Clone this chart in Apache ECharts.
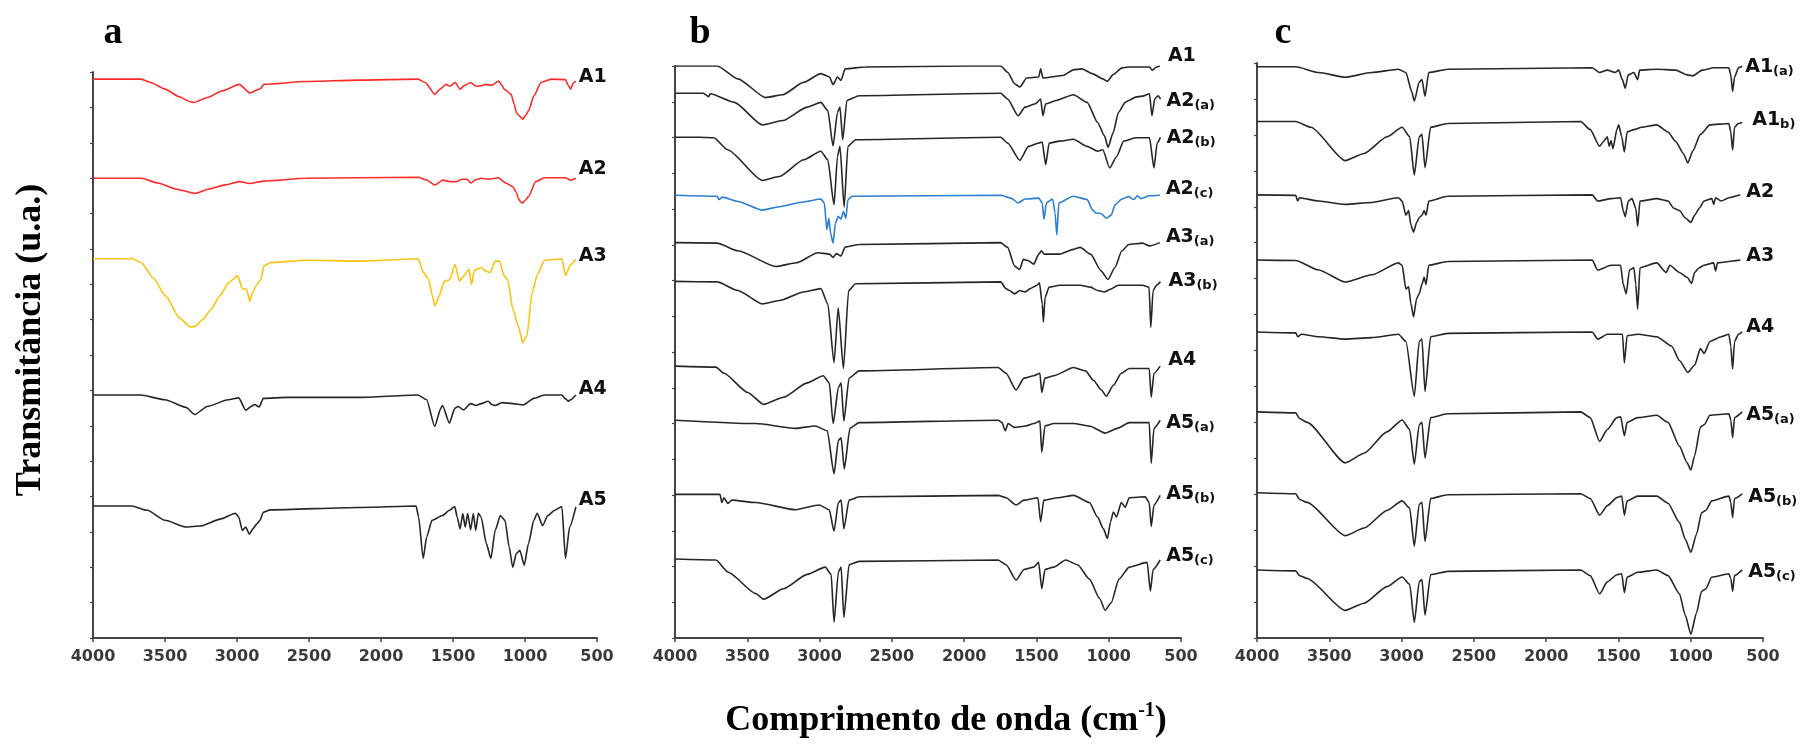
<!DOCTYPE html>
<html lang="pt">
<head>
  <meta charset="UTF-8">
  <title>FTIR</title>
  <style>
    html, body, #chart {
      margin: 0;
      padding: 0;
      width: 1816px;
      height: 745px;
      background: #fff;
    }
  </style>
</head>
<body>
<div id="chart"></div>

<script src="https://cdn.jsdelivr.net/npm/echarts@6/dist/echarts.min.js"></script>
<script>
  // wavenumber ticks (cm-1)
  var xTicks = [500, 4000, 500];

  // panel a spectra [wavenumber, transmittance u.a.]
  var aA1 = [[4000,1173],[3666,1173],[3600,1166],[3500,1152],[3400,1136],[3330,1126],[3301,1124],[3200,1135],[3106,1148],[2984,1162],[2911,1144],[2838,1153],[2814,1162],[2522,1168],[2156,1171],[1742,1173],[1693,1166],[1626,1141],[1590,1152],[1548,1162],[1520,1158],[1486,1166],[1450,1152],[1420,1160],[1377,1166],[1340,1158],[1304,1159],[1270,1162],[1231,1160],[1182,1169],[1160,1160],[1145,1152],[1096,1141],[1075,1120],[1060,1103],[1040,1096],[1016,1089],[995,1097],[975,1107],[938,1138],[889,1166],[817,1173],[719,1172],[700,1160],[683,1152],[665,1165],[647,1169]];
  var aA2 = [[4000,965],[3666,965],[3550,955],[3420,942],[3289,933],[3200,942],[3082,951],[2984,958],[2911,954],[2814,959],[2522,965],[2156,966],[1742,967],[1681,961],[1626,951],[1571,961],[1520,958],[1474,958],[1440,963],[1401,963],[1377,955],[1340,962],[1304,965],[1250,963],[1182,966],[1150,958],[1133,955],[1084,947],[1060,935],[1047,923],[1030,915],[1016,913],[995,920],[975,927],[926,958],[865,966],[719,966],[683,961],[647,965]];
  var aA3 = [[4000,796],[3727,796],[3666,788],[3580,755],[3496,718],[3400,672],[3325,653],[3289,654],[3240,668],[3179,690],[3120,718],[3057,746],[2996,760],[2960,732],[2935,733],[2911,707],[2892,725],[2862,742],[2833,753],[2814,781],[2765,788],[2522,793],[2156,791],[1742,796],[1705,767],[1669,753],[1645,720],[1626,697],[1596,718],[1559,749],[1523,752],[1486,784],[1455,749],[1425,760],[1389,774],[1372,742],[1352,772],[1304,777],[1270,770],[1243,767],[1206,791],[1177,791],[1145,760],[1121,753],[1084,690],[1047,655],[1016,620],[987,634],[950,725],[914,763],[865,793],[817,794],[744,796],[719,761],[683,784],[647,795]];
  var aA4 = [[4000,510],[3671,510],[3500,500],[3354,484],[3293,469],[3207,486],[3061,500],[2988,504],[2939,478],[2902,486],[2878,490],[2846,485],[2817,503],[2646,505],[2159,505],[1744,510],[1683,500],[1627,444],[1585,482],[1573,488],[1525,451],[1488,482],[1464,486],[1427,479],[1378,492],[1340,488],[1305,492],[1256,497],[1230,490],[1207,488],[1159,494],[1085,492],[1012,489],[939,503],[866,510],[744,510],[719,502],[700,497],[683,500],[647,510]];
  var aA5 = [[4000,277],[3732,277],[3622,268],[3500,247],[3354,233],[3256,235],[3110,250],[3012,262],[2988,254],[2963,226],[2939,233],[2915,218],[2890,229],[2861,240],[2841,247],[2817,264],[2768,269],[2159,274],[1756,277],[1739,254],[1707,167],[1683,212],[1646,247],[1573,257],[1524,268],[1488,276],[1471,254],[1451,229],[1432,261],[1415,233],[1398,261],[1378,227],[1359,261],[1342,226],[1324,262],[1305,254],[1268,198],[1237,167],[1207,226],[1171,257],[1139,247],[1110,191],[1085,148],[1061,177],[1036,184],[1005,153],[976,198],[939,247],[915,262],[878,236],[841,257],[793,268],[744,276],[719,167],[690,233],[647,275]];

  // panel b spectra
  var bA1 = [[4000,1195],[3708,1195],[3565,1168],[3373,1129],[3254,1135],[3110,1161],[2991,1179],[2931,1172],[2907,1156],[2876,1172],[2852,1165],[2823,1189],[2680,1193],[1962,1195],[1747,1195],[1699,1182],[1651,1158],[1615,1151],[1567,1170],[1484,1172],[1471,1189],[1455,1170],[1316,1175],[1244,1187],[1185,1189],[1113,1179],[1041,1168],[1010,1163],[969,1177],[909,1191],[862,1193],[718,1193],[699,1186],[670,1193],[646,1195]];
  var bA2a = [[4000,1138],[3804,1138],[3768,1131],[3756,1137],[3589,1119],[3397,1072],[3254,1081],[3086,1109],[2991,1119],[2943,1102],[2907,1028],[2876,1098],[2859,1109],[2840,1041],[2811,1123],[2727,1133],[1747,1138],[1699,1126],[1627,1091],[1579,1109],[1507,1116],[1471,1126],[1455,1091],[1436,1116],[1364,1123],[1244,1135],[1149,1119],[1077,1077],[1029,1049],[1005,1025],[969,1056],[933,1098],[885,1119],[862,1123],[814,1130],[766,1132],[718,1137],[701,1091],[682,1126],[658,1133],[642,1126]];
  var bA2b = [[4000,1046],[3828,1046],[3732,1045],[3636,1020],[3397,956],[3278,964],[3110,999],[2991,1017],[2943,999],[2900,905],[2876,1006],[2859,1027],[2830,900],[2804,1027],[2751,1041],[1747,1046],[1699,1034],[1615,998],[1555,1027],[1484,1034],[1460,1036],[1436,989],[1412,1034],[1340,1038],[1244,1042],[1149,1027],[1077,1017],[1041,1020],[993,982],[945,1006],[897,1038],[814,1045],[718,1045],[687,982],[665,1034],[642,1046]];
  var bA2c = [[4000,925],[3708,923],[3696,916],[3672,921],[3565,912],[3397,894],[3278,901],[3110,911],[2991,917],[2967,909],[2950,853],[2936,877],[2924,846],[2907,825],[2890,867],[2871,881],[2852,875],[2835,891],[2818,877],[2804,916],[2775,923],[1747,925],[1675,919],[1627,909],[1579,917],[1484,919],[1460,909],[1448,875],[1431,909],[1388,917],[1371,888],[1359,842],[1345,909],[1244,923],[1149,916],[1113,895],[1089,888],[1053,887],[1017,877],[981,884],[957,905],[909,917],[862,922],[826,916],[802,924],[778,918],[718,924],[646,925]];
  var bA3a = [[4000,826],[3708,825],[3565,809],[3302,776],[3158,784],[3014,805],[2931,802],[2907,795],[2883,803],[2852,798],[2823,817],[2727,822],[1747,826],[1699,816],[1651,777],[1615,770],[1591,791],[1555,788],[1519,781],[1484,802],[1465,809],[1448,802],[1340,802],[1244,812],[1197,816],[1125,802],[1053,767],[1005,749],[957,774],[909,809],[862,822],[766,825],[718,819],[646,826]];
  var bA3b = [[4000,745],[3708,744],[3565,726],[3397,698],[3278,705],[3110,723],[2991,730],[2943,698],[2900,575],[2871,690],[2835,563],[2799,726],[2751,740],[1747,744],[1711,730],[1687,726],[1651,719],[1615,726],[1579,723],[1543,730],[1496,737],[1479,742],[1460,698],[1452,660],[1440,712],[1412,733],[1340,737],[1197,737],[1125,733],[1077,726],[1029,723],[993,728],[933,737],[766,737],[721,733],[709,649],[693,726],[670,737],[642,744]];
  var bA4 = [[4000,568],[3717,566],[3662,553],[3497,513],[3387,488],[3250,503],[3085,533],[2975,548],[2933,533],[2906,448],[2870,523],[2851,533],[2832,453],[2796,543],[2727,558],[1765,565],[1710,553],[1641,518],[1586,543],[1518,548],[1476,553],[1463,513],[1441,543],[1380,548],[1243,565],[1160,558],[1105,538],[1050,518],[1017,505],[968,528],[913,553],[858,563],[720,563],[706,503],[687,553],[644,568]];
  var bA5a = [[4000,455],[3442,448],[3167,438],[3030,443],[2947,433],[2900,343],[2870,413],[2851,418],[2829,353],[2790,438],[2727,450],[1765,455],[1738,450],[1716,433],[1696,448],[1655,440],[1573,443],[1518,448],[1476,453],[1463,388],[1441,443],[1380,448],[1243,448],[1133,443],[1025,428],[940,438],[858,450],[720,450],[706,365],[687,438],[644,455]];
  var bA5b = [[4000,300],[3689,300],[3676,283],[3662,293],[3634,281],[3607,288],[3442,283],[3167,268],[3002,278],[2933,268],[2900,223],[2870,283],[2851,288],[2832,228],[2796,288],[2727,295],[1765,298],[1710,293],[1641,278],[1586,288],[1490,293],[1471,243],[1449,288],[1353,293],[1243,298],[1133,283],[1078,253],[1036,228],[1009,208],[987,243],[968,263],[946,253],[913,283],[886,273],[858,293],[748,295],[720,283],[706,233],[687,278],[644,298]];
  var bA5c = [[4000,165],[3717,163],[3634,138],[3442,93],[3387,81],[3250,103],[3085,133],[2961,148],[2920,133],[2900,33],[2870,138],[2851,148],[2832,43],[2796,153],[2727,160],[1765,163],[1710,153],[1641,121],[1586,143],[1518,148],[1485,158],[1463,103],[1441,143],[1380,148],[1298,163],[1215,153],[1133,123],[1064,83],[1025,58],[984,73],[929,123],[858,148],[734,158],[712,98],[693,143],[644,163]];

  // panel c spectra
  var cA1a = [[4000,1200],[3732,1200],[3574,1188],[3390,1178],[3206,1188],[3022,1195],[2970,1188],[2930,1148],[2912,1128],[2878,1168],[2859,1173],[2838,1138],[2812,1188],[2681,1195],[1682,1198],[1630,1188],[1577,1193],[1524,1188],[1498,1193],[1472,1173],[1453,1155],[1432,1183],[1393,1188],[1367,1173],[1353,1193],[1235,1195],[1104,1193],[1025,1183],[986,1181],[920,1193],[841,1198],[736,1198],[723,1183],[710,1148],[697,1178],[670,1198],[644,1201]];
  var cA1b = [[4000,1085],[3732,1085],[3627,1073],[3390,1003],[3259,1018],[3101,1053],[2996,1073],[2944,1053],[2912,973],[2878,1053],[2859,1058],[2838,988],[2799,1073],[2681,1081],[1761,1085],[1695,1068],[1630,1033],[1603,1043],[1577,1053],[1564,1033],[1551,1045],[1538,1028],[1511,1068],[1498,1078],[1477,1053],[1459,1021],[1440,1063],[1393,1068],[1340,1073],[1235,1078],[1157,1063],[1104,1043],[1051,1018],[1020,998],[986,1023],[933,1058],[867,1078],[736,1081],[723,1063],[710,1025],[697,1073],[670,1081],[644,1083]];
  var cA2 = [[4000,931],[3732,930],[3719,918],[3706,925],[3574,918],[3390,911],[3206,915],[3022,925],[2996,918],[2970,888],[2951,898],[2936,868],[2917,853],[2896,873],[2878,883],[2859,888],[2844,898],[2831,888],[2812,918],[2681,928],[1682,931],[1643,918],[1551,923],[1485,925],[1467,898],[1453,885],[1432,918],[1406,923],[1380,903],[1367,865],[1351,918],[1235,923],[1157,918],[1117,903],[1078,898],[1038,883],[999,873],[973,888],[941,903],[907,918],[854,923],[841,911],[828,925],[789,918],[736,925],[657,931]];
  var cA3 = [[4000,794],[3732,793],[3574,773],[3390,748],[3206,763],[3022,788],[2996,783],[2970,733],[2951,738],[2936,703],[2917,675],[2896,713],[2878,723],[2859,743],[2844,758],[2831,743],[2812,783],[2681,791],[1682,794],[1643,773],[1551,783],[1485,783],[1467,743],[1446,723],[1424,773],[1393,778],[1380,743],[1367,691],[1351,778],[1235,788],[1170,768],[1144,783],[1078,768],[1025,758],[994,745],[973,768],[941,778],[907,783],[841,788],[828,771],[815,788],[736,791],[657,794]];
  var cA4 = [[4000,643],[3732,641],[3719,633],[3693,638],[3574,633],[3390,628],[3206,631],[3022,638],[2970,623],[2912,508],[2878,623],[2859,628],[2838,518],[2799,633],[2681,640],[1682,643],[1643,628],[1577,638],[1472,638],[1459,578],[1440,635],[1367,638],[1235,633],[1131,613],[1078,583],[1020,558],[973,573],[933,608],[907,598],[867,623],[789,633],[736,638],[723,613],[710,565],[697,623],[670,638],[644,643]];
  var cA5a = [[4000,475],[3732,473],[3706,461],[3653,453],[3390,368],[3259,388],[3101,433],[2996,458],[2944,438],[2912,365],[2878,448],[2859,453],[2838,378],[2799,463],[2681,471],[1761,475],[1695,463],[1630,413],[1577,438],[1511,463],[1485,465],[1459,425],[1440,453],[1367,463],[1235,468],[1157,453],[1078,403],[1025,368],[999,353],[973,383],[933,443],[907,448],[867,468],[736,471],[723,458],[710,421],[697,463],[644,475]];
  var cA5b = [[4000,305],[3732,303],[3706,291],[3653,285],[3390,215],[3259,231],[3101,268],[2996,288],[2944,273],[2912,193],[2878,281],[2859,285],[2838,203],[2799,293],[2681,301],[1761,303],[1695,293],[1630,258],[1577,278],[1511,295],[1477,298],[1459,258],[1440,288],[1367,298],[1235,298],[1157,283],[1078,243],[1038,208],[999,180],[960,218],[925,263],[896,268],[854,288],[736,298],[723,285],[710,253],[697,293],[644,303]];
  var cA5c = [[4000,143],[3732,141],[3706,131],[3653,125],[3390,58],[3259,73],[3101,108],[2996,128],[2944,113],[2912,33],[2878,118],[2859,123],[2838,48],[2799,133],[2681,140],[1761,143],[1695,131],[1630,93],[1577,118],[1511,133],[1477,135],[1459,95],[1440,128],[1367,138],[1235,143],[1157,131],[1078,93],[1038,48],[999,8],[960,53],[925,98],[896,103],[854,128],[736,135],[723,125],[710,98],[697,131],[644,143]];

  // y axis extent of each panel (u.a.)
  var yMax = [1188, 1195, 1208];

  var RED = '#ff2a2a', YEL = '#ffc20e', BLU = '#2a7fd0', BLK = '#262626';

  // [panel, label, data, color, label dx, label dy]
  var spectra = [
    [0, 'A1', aA1, RED, 3, -4],
    [0, 'A2', aA2, RED, 3, -9],
    [0, 'A3', aA3, YEL, 3, -3],
    [0, 'A4', aA4, BLK, 3, -6],
    [0, 'A5', aA5, BLK, 3, -7],
    [1, 'A1', bA1, BLK, 8, -10],
    [1, 'A2(a)', bA2a, BLK, 6, 2],
    [1, 'A2(b)', bA2b, BLK, 6, 1],
    [1, 'A2(c)', bA2c, BLU, 6, -6],
    [1, 'A3(a)', bA3a, BLK, 6, -6],
    [1, 'A3(b)', bA3b, BLK, 8, -1],
    [1, 'A4', bA4, BLK, 8, -6],
    [1, 'A5(a)', bA5a, BLK, 6, 3],
    [1, 'A5(b)', bA5b, BLK, 6, -1],
    [1, 'A5(c)', bA5c, BLK, 6, -4],
    [2, 'A1(a)', cA1a, BLK, 3, 1],
    [2, 'A1b)', cA1b, BLK, 10, -2],
    [2, 'A2', cA2, BLK, 6, -3],
    [2, 'A3', cA3, BLK, 6, -4],
    [2, 'A4', cA4, BLK, 4, -5],
    [2, 'A5(a)', cA5a, BLK, 4, 3],
    [2, 'A5(b)', cA5b, BLK, 6, 3],
    [2, 'A5(c)', cA5c, BLK, 6, 2]
  ];

  var grids = [
    {left: 93, right: 1219, top: 72, bottom: 107},
    {left: 675, right: 635, top: 66, bottom: 107},
    {left: 1257, right: 53, top: 63, bottom: 107}
  ];

  var AX = '#454545';

  function richName(n) {
    var main = n.slice(0, 2), sub = n.slice(2);
    return sub ? '{m|' + main + '}{s|' + sub + '}' : '{m|' + main + '}';
  }

  var xAxes = [], yAxes = [], series = [];
  grids.forEach(function (g, i) {
    xAxes.push({
      gridIndex: i, type: 'value', inverse: true,
      min: xTicks[0], max: xTicks[1], interval: xTicks[2],
      axisLine: {show: true, onZero: false, lineStyle: {color: AX, width: 2}},
      axisTick: {show: true, length: 4, lineStyle: {color: AX, width: 1.5}},
      axisLabel: {
        fontFamily: 'DejaVu Sans', fontWeight: 'bold', fontSize: 16, color: '#3a3a3a', margin: 11,
        formatter: function (v) { return String(v); }
      },
      splitLine: {show: false}
    });
    yAxes.push({
      gridIndex: i, type: 'value', min: 0, max: yMax[i], interval: yMax[i] / 16,
      axisLine: {show: true, onZero: false, lineStyle: {color: AX, width: 2}},
      axisTick: {show: true, length: 3, lineStyle: {color: AX, width: 1.2}},
      axisLabel: {show: false},
      splitLine: {show: false}
    });
  });

  spectra.forEach(function (s) {
    series.push({
      type: 'line', name: s[1], data: s[2],
      xAxisIndex: s[0], yAxisIndex: s[0],
      symbol: 'none', showSymbol: false, silent: true,
      smooth: 0.2, smoothMonotone: 'x',
      lineStyle: {color: s[3], width: 1.6},
      endLabel: {
        show: true, align: 'left', verticalAlign: 'middle', distance: 0,
        offset: [s[4], s[5]],
        formatter: function () { return richName(s[1]); },
        rich: {
          m: {fontFamily: 'DejaVu Sans', fontWeight: 'bold', fontSize: 19, color: '#111', lineHeight: 22},
          s: {fontFamily: 'DejaVu Sans', fontWeight: 'bold', fontSize: 13, color: '#111', lineHeight: 10, verticalAlign: 'bottom'}
        }
      }
    });
  });

  var chart = echarts.init(document.getElementById('chart'));
  chart.setOption({
    animation: false,
    backgroundColor: '#fff',
    grid: grids,
    xAxis: xAxes,
    yAxis: yAxes,
    series: series,
    graphic: [
      {type: 'text', x: 113, y: 33, style: {text: 'a', fontFamily: 'Liberation Serif', fontWeight: 'bold', fontSize: 38, fill: '#000', align: 'center', verticalAlign: 'middle'}},
      {type: 'text', x: 700, y: 33, style: {text: 'b', fontFamily: 'Liberation Serif', fontWeight: 'bold', fontSize: 38, fill: '#000', align: 'center', verticalAlign: 'middle'}},
      {type: 'text', x: 1283, y: 33, style: {text: 'c', fontFamily: 'Liberation Serif', fontWeight: 'bold', fontSize: 38, fill: '#000', align: 'center', verticalAlign: 'middle'}},
      {type: 'text', x: 31, y: 340, rotation: Math.PI / 2, style: {text: 'Transmitância (u.a.)', fontFamily: 'Liberation Serif', fontWeight: 'bold', fontSize: 36, fill: '#000', align: 'center', verticalAlign: 'middle'}},
      {type: 'text', x: 946, y: 721, style: {
        text: '{t|Comprimento de onda (cm}{p|-1}{t|)}',
        align: 'center', verticalAlign: 'middle',
        rich: {
          t: {fontFamily: 'Liberation Serif', fontWeight: 'bold', fontSize: 36, fill: '#000', lineHeight: 40},
          p: {fontFamily: 'Liberation Serif', fontWeight: 'bold', fontSize: 20, fill: '#000', lineHeight: 22, verticalAlign: 'top'}
        }
      }}
    ]
  });
</script>
</body>
</html>
